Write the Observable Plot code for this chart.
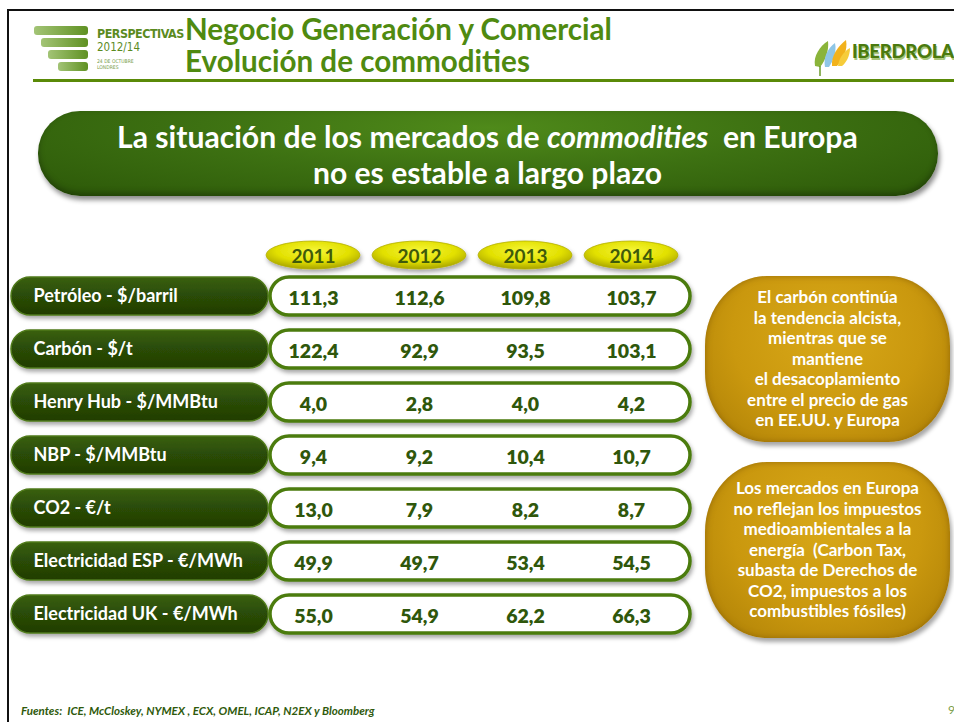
<!DOCTYPE html>
<html>
<head>
<meta charset="utf-8">
<script src="https://cdn.jsdelivr.net/npm/d3@7"></script>
<script src="https://cdn.jsdelivr.net/npm/@observablehq/plot@0.6"></script>
<style>
  html, body { margin: 0; padding: 0; background: #fff; }
  #page { position: relative; width: 954px; height: 722px; overflow: hidden; background: #fff; font-family: Lato, "Open Sans", sans-serif; }
  .abs { position: absolute; }
  .fit { white-space: nowrap; }
  #plot { position: absolute; left: 0; top: 200px; }
  .note { position: absolute; display: flex; align-items: center; justify-content: center; text-align: center;
          color: #fff; font-weight: 700; font-size: 17px; line-height: 20.6px;
          background: radial-gradient(ellipse at 50% 35%, #d8a818 0%, #ca980e 55%, #ab7e06 100%);
          border-radius: 62px / 70px; box-shadow: 2px 4px 4px rgba(0,0,0,0.35), inset 0 0 6px rgba(120,80,0,0.6); }
</style>
</head>
<body>
<div id="page">
  <div class="abs" style="left:7px;top:9px;width:947px;height:2px;background:#111"></div>
  <div class="abs" style="left:7px;top:9px;width:2px;height:713px;background:#111"></div>

  <!-- logo bars -->
  <div class="abs" style="left:34px;top:26px;width:54px;height:9px;border-radius:3px;background:linear-gradient(90deg,#a3c476,#5f9122)"></div>
  <div class="abs" style="left:41px;top:38px;width:47px;height:9px;border-radius:3px;background:linear-gradient(90deg,#a3c476,#5f9122)"></div>
  <div class="abs" style="left:48px;top:50px;width:40px;height:9px;border-radius:3px;background:linear-gradient(90deg,#a3c476,#5f9122)"></div>
  <div class="abs" style="left:58px;top:62px;width:30px;height:9px;border-radius:3px;background:linear-gradient(90deg,#a3c476,#5f9122)"></div>
  <div class="abs fit" id="persp" data-w="86" style="left:97px;top:29px;font-family:'Liberation Sans Narrow','DejaVu Sans Condensed',sans-serif;font-weight:700;font-size:11px;line-height:10px;color:#5b8b1f;letter-spacing:-0.5px">PERSPECTIVAS</div>
  <div class="abs fit" id="yrs" data-w="43" style="left:97px;top:40px;font-family:'Liberation Sans Narrow','DejaVu Sans Condensed',sans-serif;font-size:16px;line-height:14px;color:#5b8b1f">2012/14</div>
  <div class="abs fit" style="left:97px;top:58px;font-family:'DejaVu Sans Condensed',sans-serif;font-size:5px;line-height:6px;color:#7aa04a">24 DE OCTUBRE<br>LONDRES</div>

  <!-- title -->
  <div class="abs fit" id="t1" data-w="427" style="left:185px;top:13px;font-weight:700;font-size:29px;line-height:32px;color:#4f8a10">Negocio Generación y Comercial</div>
  <div class="abs fit" id="t2" data-w="345" style="left:185px;top:45px;font-weight:700;font-size:29px;line-height:32px;color:#4f8a10">Evolución de commodities</div>

  <!-- iberdrola logo -->
  <svg class="abs" style="left:812px;top:36px" width="42" height="40" viewBox="0 0 42 40">
    <path d="M3,30 C1,20 8,10 16,5 C17,14 14,24 8,31 Z" fill="#8ab43a"/>
    <path d="M13,31 C11,21 16,12 23,7 C25,16 21,25 17,31 Z" fill="#8fc6e6"/>
    <path d="M20,30 C19,20 26,10 34,4 C36,14 31,24 25,30 Z" fill="#f2b21c"/>
    <path d="M26,30 C27,22 32,15 38,12 C38,20 34,27 30,30 Z" fill="#f6cc3a"/>
    <path d="M8,30 L8,40" stroke="#6a9a2a" stroke-width="1.5"/>
  </svg>
  <div class="abs fit" id="ib" data-w="102" style="left:852px;top:40px;font-weight:900;font-size:20px;color:#4a7a0e;text-shadow:1px 2px 0 #a9c77a;letter-spacing:-0.3px">IBERDROLA</div>

  <div class="abs" style="left:33px;top:79px;width:921px;height:3px;background:#5a8a08"></div>

  <!-- banner -->
  <div class="abs" style="left:38px;top:111px;width:900px;height:85px;border-radius:42px;
       background:radial-gradient(ellipse at 50% 20%, #4f8a1a 0%, #3d7112 45%, #2c5808 100%);
       box-shadow:2px 4px 5px rgba(0,0,0,0.45), inset 0 -3px 6px rgba(0,0,0,0.3)"></div>
  <div class="abs fit" id="b1" data-w="741" style="left:117px;top:118px;font-weight:700;font-size:28px;line-height:36px;color:#fff">La situación de los mercados de <i>commodities</i>&nbsp; en Europa</div>
  <div class="abs fit" id="b2" data-w="349" style="left:313px;top:154px;font-weight:700;font-size:28px;line-height:36px;color:#fff">no es estable a largo plazo</div>

  <div id="plot"></div>

  <div class="note" style="left:705px;top:276px;width:245px;height:166px">El carbón continúa<br>la tendencia alcista,<br>mientras que se<br>mantiene<br>el desacoplamiento<br>entre el precio de gas<br>en EE.UU. y Europa</div>
  <div class="note" style="left:705px;top:462px;width:245px;height:176px">Los mercados en Europa<br>no reflejan los impuestos<br>medioambientales a la<br>energía&nbsp; (Carbon Tax,<br>subasta de Derechos de<br>CO2, impuestos a los<br>combustibles fósiles)</div>

  <div class="abs fit" id="foot" data-w="354" style="left:21px;top:704px;font-weight:700;font-style:italic;font-size:11px;color:#2f5a0c">Fuentes:&nbsp; ICE, McCloskey, NYMEX , ECX, OMEL, ICAP, N2EX y Bloomberg</div>
  <div class="abs" style="left:948px;top:702px;font-size:12px;color:#7aa04a">9</div>
</div>

<script>
// ---- data ----
const years = ["2011", "2012", "2013", "2014"];
const names = [
  "Petróleo - $/barril",
  "Carbón - $/t",
  "Henry Hub - $/MMBtu",
  "NBP - $/MMBtu",
  "CO2 - €/t",
  "Electricidad ESP - €/MWh",
  "Electricidad UK - €/MWh"
];
const v2011 = [111.3, 122.4, 4.0, 9.4, 13.0, 49.9, 55.0];
const v2012 = [112.6, 92.9, 2.8, 9.2, 7.9, 49.7, 54.9];
const v2013 = [109.8, 93.5, 4.0, 10.4, 8.2, 53.4, 62.2];
const v2014 = [103.7, 103.1, 4.2, 10.7, 8.7, 54.5, 66.3];
const headerKey = "Año";

const series = {"2011": v2011, "2012": v2012, "2013": v2013, "2014": v2014};
const cells = years.flatMap(y => names.map((n, i) => ({year: y, name: n, value: series[y][i]})));
const fmt = v => v.toFixed(1).replace(".", ",");

const plot = Plot.plot({
  width: 700,
  height: 460,
  marginLeft: 260,
  marginRight: 16,
  marginTop: 9,
  marginBottom: 12,
  x: {type: "band", domain: years, padding: 0, axis: null},
  y: {type: "band", domain: [headerKey, ...names], padding: 0.28, axis: null},
  style: {fontFamily: "Lato, 'Open Sans', sans-serif", overflow: "visible"},
  marks: [
    // year header ellipses
    Plot.cell(years, {x: d => d, y: () => headerKey, dy: 12, insetLeft: 6, insetRight: 6, insetTop: 5, insetBottom: 5,
      rx: 47, ry: 14, fill: "url(#yel)", stroke: "#b4b000", strokeWidth: 0.8}),
    Plot.text(years, {x: d => d, y: () => headerKey, dy: 13, text: d => d, fill: "#3f5a0a", fontSize: 19, fontWeight: 700}),
    // label pills
    Plot.cell(names, {y: d => d, insetLeft: -249, insetRight: 416, rx: 19, fill: "url(#dkg)", stroke: "#4f7a1a", strokeWidth: 1.5}),
    Plot.text(names, {y: d => d, text: d => d, frameAnchor: "left", dx: -227, textAnchor: "start", fill: "#fff", fontSize: 18, fontWeight: 700}),
    // value boxes
    Plot.cell(names, {y: d => d, insetLeft: 10, insetRight: -6, rx: 19, fill: "#fff", stroke: "#4b7b0d", strokeWidth: 3.5}),
    Plot.text(cells, {x: "year", y: "name", dy: 2, text: d => fmt(d.value), fill: "#2f570b", fontSize: 19.5, fontWeight: 800})
  ]
});

const svg = d3.select(plot);
const defs = svg.insert("defs", ":first-child");
const yel = defs.append("radialGradient").attr("id", "yel").attr("cx", "50%").attr("cy", "35%").attr("r", "65%");
yel.append("stop").attr("offset", "0%").attr("stop-color", "#f6f63a");
yel.append("stop").attr("offset", "60%").attr("stop-color", "#e2e000");
yel.append("stop").attr("offset", "100%").attr("stop-color", "#a8a400");
const dkg = defs.append("linearGradient").attr("id", "dkg").attr("x1", 0).attr("y1", 0).attr("x2", 0).attr("y2", 1);
dkg.append("stop").attr("offset", "0%").attr("stop-color", "#3a600f");
dkg.append("stop").attr("offset", "45%").attr("stop-color", "#2b4d07");
dkg.append("stop").attr("offset", "100%").attr("stop-color", "#213d04");
const f = defs.append("filter").attr("id", "sh").attr("x", "-10%").attr("y", "-20%").attr("width", "120%").attr("height", "160%");
f.append("feDropShadow").attr("dx", 1.5).attr("dy", 3).attr("stdDeviation", 2).attr("flood-color", "#000").attr("flood-opacity", 0.35);
svg.selectAll("g[aria-label=cell]").attr("filter", "url(#sh)");

document.getElementById("plot").appendChild(plot);

// fit header texts to measured widths
document.querySelectorAll(".fit[data-w]").forEach(el => {
  const target = +el.dataset.w;
  const w = el.getBoundingClientRect().width;
  const fs = parseFloat(getComputedStyle(el).fontSize);
  if (w > 0) el.style.fontSize = (fs * target / w).toFixed(2) + "px";
});
</script>
</body>
</html>
